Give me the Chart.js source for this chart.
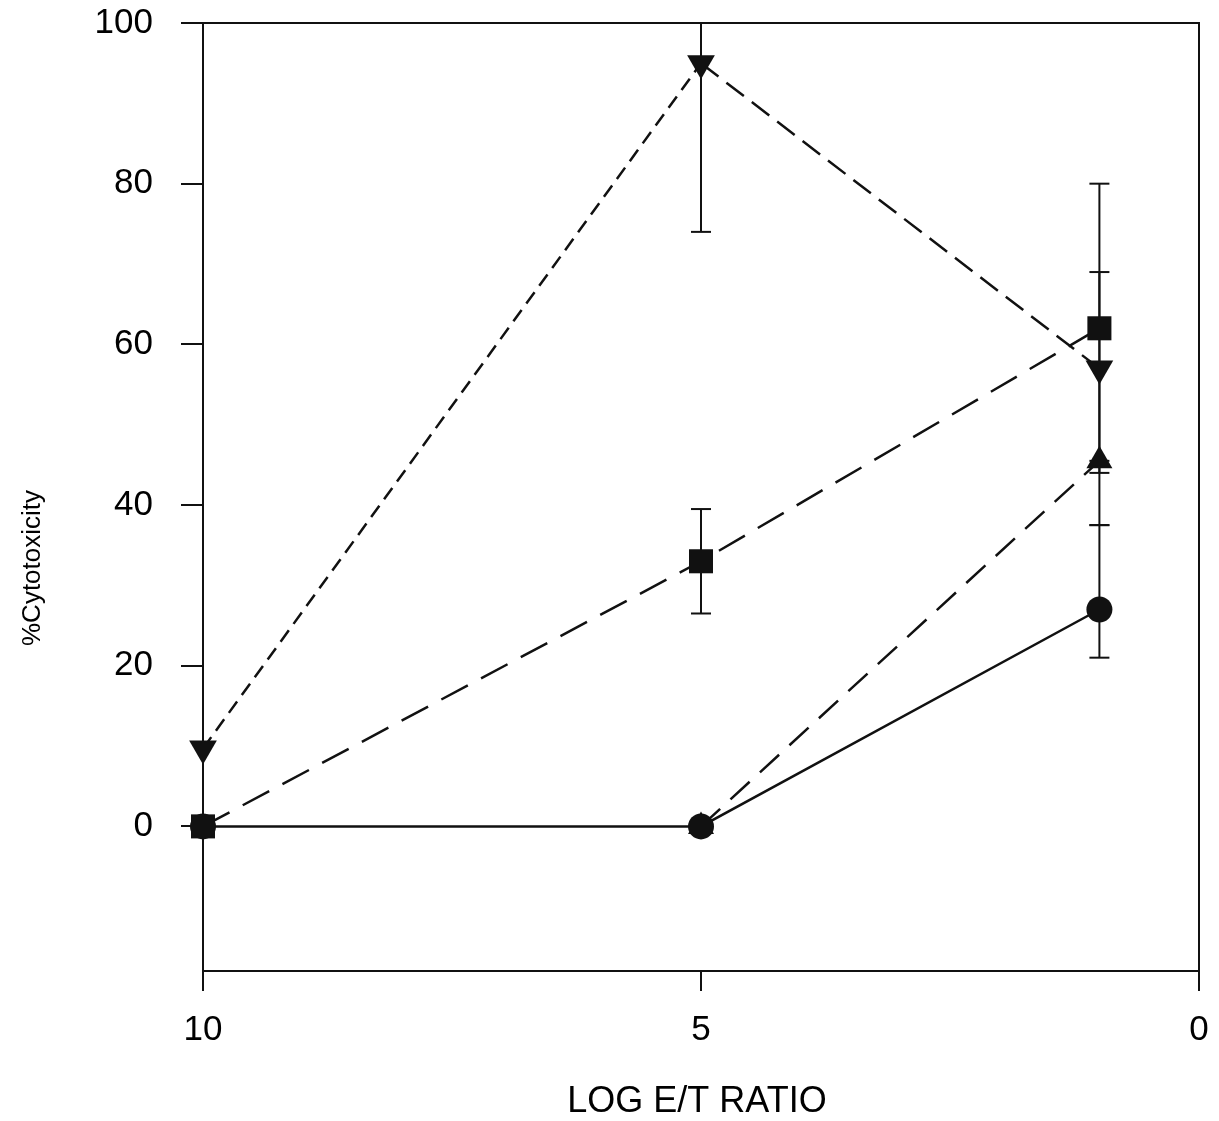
<!DOCTYPE html>
<html>
<head>
<meta charset="utf-8">
<script src="https://cdn.jsdelivr.net/npm/chart.js@4"></script>
<style>
  html, body { margin: 0; padding: 0; background: #fff; }
  #wrap { width: 1219px; height: 1121px; }
</style>
</head>
<body>
<div id="wrap"><canvas id="chart" width="1219" height="1121"></canvas></div>
<script>
// values
const xTicks = [10, 5, 0];
const yTicks = [0, 20, 40, 60, 80, 100];

const ratioX = [10, 5, 1];
const invTriY = [9.7, 95, 57];
const invTriLow = [null, 74, 45];
const invTriHigh = [null, 116, 69];

const squareY = [0, 33, 62];
const squareLow = [null, 26.5, 44];
const squareHigh = [null, 39.5, 80];

const triX = [5, 1];
const triY = [0, 45.5];
const triLow = [null, 37.5];
const triHigh = [null, 45.5];

const circleY = [0, 0, 27];
const circleLow = [null, null, 21];
const circleHigh = [null, null, 37.5];

const ink = '#111';

function points(xs, ys, lo, hi) {
  return xs.map((x, i) => ({ x, y: ys[i], lo: lo[i], hi: hi[i] }));
}

// error bars, drawn before the markers
const errorBars = {
  id: 'errorBars',
  beforeDatasetsDraw(chart) {
    const { ctx, chartArea: a, scales: { y } } = chart;
    ctx.save();
    ctx.strokeStyle = ink;
    ctx.lineWidth = 2;
    chart.data.datasets.forEach((ds, di) => {
      const meta = chart.getDatasetMeta(di);
      meta.data.forEach((pt, i) => {
        const d = ds.data[i];
        if (d.lo == null && d.hi == null) return;
        const x = pt.x;
        const yLo = y.getPixelForValue(d.lo ?? d.y);
        const yHi = y.getPixelForValue(d.hi ?? d.y);
        ctx.beginPath();
        ctx.moveTo(x, Math.min(yLo, a.bottom));
        ctx.lineTo(x, Math.max(yHi, a.top));
        ctx.stroke();
        [yLo, yHi].forEach(v => {
          if (v >= a.top && v <= a.bottom) {
            ctx.beginPath();
            ctx.moveTo(x - 10, v);
            ctx.lineTo(x + 10, v);
            ctx.stroke();
          }
        });
      });
    });
    ctx.restore();
  }
};

// frame + axis titles
const frame = {
  id: 'frame',
  afterDraw(chart) {
    const { ctx, chartArea: a } = chart;
    ctx.save();
    ctx.strokeStyle = ink;
    ctx.lineWidth = 2;
    ctx.strokeRect(a.left, a.top, a.right - a.left, a.bottom - a.top);
    ctx.fillStyle = '#000';
    ctx.font = '36px "Liberation Sans", Arial, sans-serif';
    ctx.textAlign = 'center';
    ctx.textBaseline = 'alphabetic';
    ctx.fillText('LOG E/T RATIO', 697, 1112);
    ctx.translate(40, 568);
    ctx.rotate(-Math.PI / 2);
    ctx.font = '26px "Liberation Sans", Arial, sans-serif';
    ctx.fillText('%Cytotoxicity', 0, 0);
    ctx.restore();
  }
};

const ctx = document.getElementById('chart').getContext('2d');
new Chart(ctx, {
  type: 'scatter',
  data: {
    datasets: [
      {
        data: points(ratioX, circleY, circleLow, circleHigh),
        showLine: true, borderColor: ink, borderWidth: 2.5, clip: false,
        pointStyle: 'circle', pointRadius: 13, pointBackgroundColor: ink, pointBorderWidth: 0
      },
      {
        data: points(triX, triY, triLow, triHigh),
        showLine: true, borderColor: ink, borderWidth: 2.5, borderDash: [26, 14], clip: false,
        pointStyle: 'triangle', pointRadius: 15, pointBackgroundColor: ink, pointBorderWidth: 0
      },
      {
        data: points(ratioX, squareY, squareLow, squareHigh),
        showLine: true, borderColor: ink, borderWidth: 2.5, borderDash: [30, 15], clip: false,
        pointStyle: 'rect', pointRadius: 17, pointBackgroundColor: ink, pointBorderWidth: 0
      },
      {
        data: points(ratioX, invTriY, invTriLow, invTriHigh),
        showLine: true, borderColor: ink, borderWidth: 2.5, borderDash: [14, 8], clip: false,
        segment: { borderDash: c => c.p0DataIndex === 0 ? [14, 8] : [22, 10] },
        pointStyle: 'triangle', pointRotation: 180, pointRadius: 16,
        pointBackgroundColor: ink, pointBorderWidth: 0
      }
    ]
  },
  options: {
    responsive: false,
    animation: false,
    layout: { padding: { top: 23, right: 20, left: 0, bottom: 0 } },
    plugins: { legend: { display: false }, tooltip: { enabled: false } },
    scales: {
      x: {
        type: 'linear', min: 0, max: 10, reverse: true,
        afterFit: s => { s.height = 150; s.paddingLeft = 0; s.paddingRight = 0; },
        afterBuildTicks: s => { s.ticks = xTicks.map(v => ({ value: v })); },
        grid: { drawOnChartArea: false, drawTicks: true, tickLength: 20, color: ink, lineWidth: 2 },
        border: { display: true, color: ink, width: 2 },
        ticks: { color: '#000', padding: 18, maxRotation: 0,
          font: { family: '"Liberation Sans", Arial, sans-serif', size: 35 } }
      },
      y: {
        type: 'linear', min: -18, max: 100,
        afterFit: s => { s.width = 203; s.paddingTop = 0; s.paddingBottom = 0; },
        afterBuildTicks: s => { s.ticks = yTicks.map(v => ({ value: v })); },
        grid: { drawOnChartArea: false, drawTicks: true, tickLength: 22, color: ink, lineWidth: 2 },
        border: { display: true, color: ink, width: 2 },
        ticks: { color: '#000', padding: 28,
          font: { family: '"Liberation Sans", Arial, sans-serif', size: 35 } }
      }
    }
  },
  plugins: [errorBars, frame]
});
</script>
</body>
</html>
